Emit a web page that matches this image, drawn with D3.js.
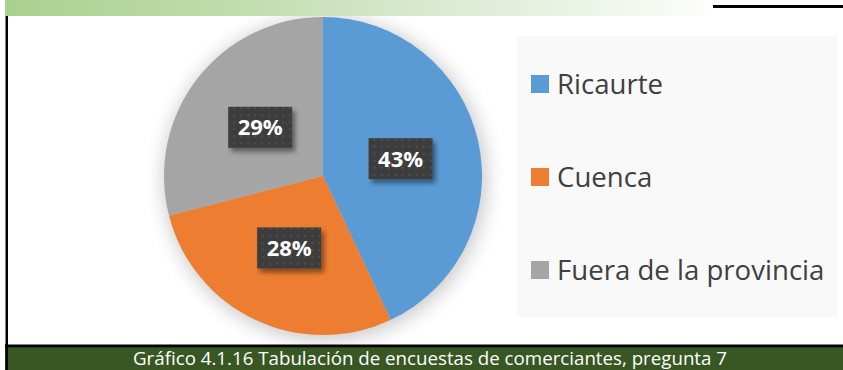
<!DOCTYPE html>
<html>
<head>
<meta charset="utf-8">
<script src="https://cdn.jsdelivr.net/npm/d3@7"></script>
<style>
  body { margin: 0; background: #fff; }
  svg { display: block; }
</style>
</head>
<body>
<svg id="chart" width="843" height="370"></svg>
<script>
// Survey answers: where the merchants come from (share in %)
const categories = ["Ricaurte", "Cuenca", "Fuera de la provincia"];
const shares = [43, 28, 29];
const sliceColors = ["#5b9bd5", "#ed7d31", "#a5a5a5"];
const caption = "Gráfico 4.1.16 Tabulación de encuestas de comerciantes, pregunta 7";

const svg = d3.select("#chart");
const W = 843, H = 370;
const defs = svg.append("defs");

// Header band gradient (green fading to white)
const hdr = defs.append("linearGradient").attr("id", "hdrGrad")
  .attr("x1", 0).attr("x2", 1).attr("y1", 0).attr("y2", 0);
[[0, "#a9d18e"], [0.3, "#bddcaa"], [0.6, "#d9e9cf"], [0.85, "#eef5ea"], [1, "#fcfdfb"]]
  .forEach(([o, c]) => hdr.append("stop").attr("offset", o).attr("stop-color", c));

// Soft shadow for the pie
const pieShadow = defs.append("filter").attr("id", "pieShadow")
  .attr("x", "-40%").attr("y", "-40%").attr("width", "180%").attr("height", "180%");
pieShadow.append("feGaussianBlur").attr("stdDeviation", 10);

// Drop shadow for the value labels
const lblShadow = defs.append("filter").attr("id", "lblShadow")
  .attr("x", "-30%").attr("y", "-30%").attr("width", "170%").attr("height", "180%");
lblShadow.append("feGaussianBlur").attr("in", "SourceAlpha").attr("stdDeviation", 2.5).attr("result", "b");
lblShadow.append("feOffset").attr("in", "b").attr("dx", 3).attr("dy", 4).attr("result", "o");
lblShadow.append("feComponentTransfer").attr("in", "o").attr("result", "s")
  .append("feFuncA").attr("type", "linear").attr("slope", 0.45);
const lm = lblShadow.append("feMerge");
lm.append("feMergeNode").attr("in", "s");
lm.append("feMergeNode").attr("in", "SourceGraphic");

// Dotted dark texture for the label boxes
const dots = defs.append("pattern").attr("id", "dots")
  .attr("patternUnits", "userSpaceOnUse").attr("width", 7).attr("height", 7);
dots.append("rect").attr("width", 7).attr("height", 7).attr("fill", "#3d3d3d");
dots.append("circle").attr("cx", 2).attr("cy", 2).attr("r", 1).attr("fill", "#555");

// Pie geometry
const cx = 323, cy = 176, R = 159;
const pie = d3.pie().sort(null).value(d => d)(shares);
const arc = d3.arc().innerRadius(0).outerRadius(R);

// Shadow under the pie
svg.append("circle").attr("cx", cx + 2).attr("cy", cy + 3).attr("r", R + 2)
  .attr("fill", "#000").attr("opacity", 0.22).attr("filter", "url(#pieShadow)");

// Legend panel
const legend = svg.append("g");
legend.append("rect").attr("x", 517).attr("y", 36).attr("width", 321).attr("height", 281)
  .attr("fill", "#f9f9f9");
const legY = d3.scalePoint().domain(categories).range([84, 270]);
const legItems = legend.selectAll("g.item").data(categories).join("g").attr("class", "item")
  .attr("transform", d => `translate(0,${legY(d)})`);
legItems.append("rect").attr("x", 531).attr("y", -9).attr("width", 18).attr("height", 18)
  .attr("fill", (d, i) => sliceColors[i]);
legItems.append("text").attr("x", 557).attr("y", 0).attr("dy", "0.36em")
  .attr("font-family", "'Open Sans', sans-serif").attr("font-size", 27.6)
  .attr("fill", "#404040").text(d => d);

// Pie slices
const g = svg.append("g").attr("transform", `translate(${cx},${cy})`);
g.selectAll("path").data(pie).join("path")
  .attr("d", arc).attr("fill", (d, i) => sliceColors[i]);

// Header band and frame lines
svg.append("rect").attr("x", 5).attr("y", 0).attr("width", 700).attr("height", 16)
  .attr("fill", "url(#hdrGrad)");
svg.append("rect").attr("x", 713).attr("y", 5).attr("width", 130).attr("height", 3).attr("fill", "#000");
svg.append("rect").attr("x", 5.5).attr("y", 16).attr("width", 2.5).attr("height", H - 16).attr("fill", "#000");

// Caption band
svg.append("rect").attr("x", 5).attr("y", 347).attr("width", W - 5).attr("height", H - 347)
  .attr("fill", "#385723");
svg.append("rect").attr("x", 5).attr("y", 344.5).attr("width", W - 5).attr("height", 2.8).attr("fill", "#000");
svg.append("rect").attr("x", 5.5).attr("y", 344).attr("width", 2.5).attr("height", H - 344).attr("fill", "#000");
svg.append("text").attr("x", 133).attr("y", 365)
  .attr("font-family", "'Open Sans', sans-serif").attr("font-size", 18)
  .attr("textLength", 594).attr("lengthAdjust", "spacingAndGlyphs")
  .attr("fill", "#fff").text(caption);

// Value labels in dark boxes at slice centroids
const lbl = g.selectAll("g.lbl").data(pie).join("g").attr("class", "lbl")
  .attr("transform", d => `translate(${arc.centroid(d)})`);
lbl.append("rect").attr("x", -32).attr("y", -20.5).attr("width", 64).attr("height", 41)
  .attr("fill", "url(#dots)").attr("filter", "url(#lblShadow)");
lbl.append("text").attr("text-anchor", "middle").attr("dy", "0.36em")
  .attr("font-family", "'Open Sans', sans-serif").attr("font-weight", "bold").attr("font-size", 22)
  .attr("fill", "#fff").text(d => `${d.data}%`);
</script>
</body>
</html>
